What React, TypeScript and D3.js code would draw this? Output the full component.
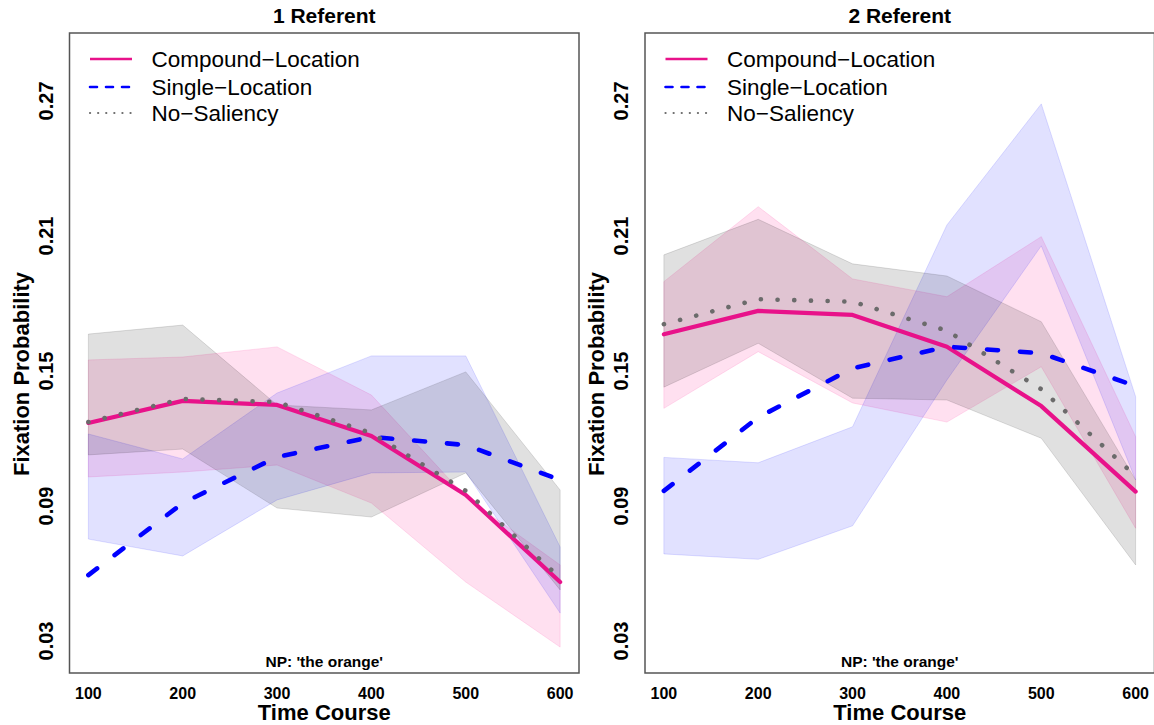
import React from "react";
import * as d3 from "d3";

// ---------- data ----------
const times = [100, 200, 300, 400, 500, 600];
const xTicks = [100, 200, 300, 400, 500, 600];
const yTicks = [0.03, 0.09, 0.15, 0.21, 0.27];
const panelTitles = ["1 Referent", "2 Referent"];
const seriesNames = ["Compound\u2212Location", "Single\u2212Location", "No\u2212Saliency"];
const npLabel = "NP: 'the orange'";
const xLabel = "Time Course";
const yLabel = "Fixation Probability";

// Panel 1 (1 Referent)
const p1CompoundMean = [0.1269, 0.1367, 0.1349, 0.1211, 0.0949, 0.0562];
const p1CompoundHi = [0.1549, 0.1562, 0.1607, 0.1393, 0.094, 0.0638];
const p1CompoundLo = [0.1029, 0.1051, 0.1082, 0.0913, 0.0562, 0.0273];
const p1SingleMean = [0.0593, 0.0913, 0.1118, 0.1207, 0.1171, 0.1016];
const p1SingleHi = [0.122, 0.1109, 0.1402, 0.1567, 0.1567, 0.0718];
const p1SingleLo = [0.0753, 0.0678, 0.0927, 0.1047, 0.1051, 0.0424];
const p1NoSalMean = [0.1273, 0.1376, 0.1362, 0.1224, 0.0967, 0.058];
const p1NoSalHi = [0.1664, 0.1704, 0.1349, 0.1327, 0.1496, 0.0971];
const p1NoSalLo = [0.1127, 0.1153, 0.0891, 0.0851, 0.1047, 0.0527];

// Panel 2 (2 Referent)
const p2CompoundMean = [0.1663, 0.1767, 0.1749, 0.1608, 0.1344, 0.0964];
const p2CompoundHi = [0.1897, 0.223, 0.1909, 0.183, 0.2097, 0.1208];
const p2CompoundLo = [0.1334, 0.1586, 0.1358, 0.1273, 0.1519, 0.0801];
const p2SingleMean = [0.0967, 0.1294, 0.1512, 0.1608, 0.1579, 0.1433];
const p2SingleHi = [0.1116, 0.1092, 0.1252, 0.2149, 0.2687, 0.1386];
const p2SingleLo = [0.0687, 0.0663, 0.0812, 0.146, 0.2056, 0.1016];
const p2NoSalMean = [0.1708, 0.1819, 0.1808, 0.1679, 0.1419, 0.1033];
const p2NoSalHi = [0.2016, 0.2174, 0.1976, 0.1922, 0.1719, 0.1016];
const p2NoSalLo = [0.1428, 0.1623, 0.1379, 0.1371, 0.1201, 0.0638];

// ---------- styles ----------
const W = 1154;
const H = 725;
const FONT = "'Liberation Sans', Arial, Helvetica, sans-serif";
const panelLefts = [69.5, 645];
const plotW = 509.5;
const plotTop = 33;
const plotBottom = 673;
const xDomain = [80, 620];
const yDomain = [0.01578, 0.3002];

const styles = [
  { line: "#E8128A", band: "rgba(255,110,185,0.21)", width: 4.2, dash: null, cap: "round", legendDash: null, legendWidth: 2.6 },
  { line: "#0000FF", band: "rgba(20,20,255,0.13)", width: 4.6, dash: "11 22", cap: "round", legendDash: "7 9", legendWidth: 2.6 },
  { line: "#6b6b6b", band: "rgba(0,0,0,0.12)", width: 4.6, dash: "0.1 16.6", cap: "round", legendDash: "0.1 8", legendWidth: 2.2 },
];

type Series = { mean: number[]; hi: number[]; lo: number[] };

const panels: Series[][] = [
  [
    { mean: p1CompoundMean, hi: p1CompoundHi, lo: p1CompoundLo },
    { mean: p1SingleMean, hi: p1SingleHi, lo: p1SingleLo },
    { mean: p1NoSalMean, hi: p1NoSalHi, lo: p1NoSalLo },
  ],
  [
    { mean: p2CompoundMean, hi: p2CompoundHi, lo: p2CompoundLo },
    { mean: p2SingleMean, hi: p2SingleHi, lo: p2SingleLo },
    { mean: p2NoSalMean, hi: p2NoSalHi, lo: p2NoSalLo },
  ],
];

function Panel({ idx }: { idx: number }) {
  const left = panelLefts[idx];
  const x = d3.scaleLinear().domain(xDomain).range([left, left + plotW]);
  const y = d3.scaleLinear().domain(yDomain).range([plotBottom, plotTop]);
  const cx = left + plotW / 2;
  const series = panels[idx];
  const clipId = `clip-${idx}`;

  const areaGen = (s: Series) =>
    d3
      .area<number>()
      .x((_, i) => x(times[i]))
      .y0((_, i) => y(s.lo[i]))
      .y1((_, i) => y(s.hi[i]))(times);
  const lineGen = (s: Series) =>
    d3
      .line<number>()
      .x((_, i) => x(times[i]))
      .y((_, i) => y(s.mean[i]))(times);

  const legendRows = [59, 87, 113];

  return (
    <g>
      <defs>
        <clipPath id={clipId}>
          <rect x={left} y={plotTop} width={plotW} height={plotBottom - plotTop} />
        </clipPath>
      </defs>
      <g clipPath={`url(#${clipId})`}>
        {series.map((s, i) => (
          <path key={"b" + i} d={areaGen(s) || ""} fill={styles[i].band} stroke={styles[i].band} strokeWidth={1} />
        ))}
        {series.map((s, i) => (
          <path
            key={"l" + i}
            d={lineGen(s) || ""}
            fill="none"
            stroke={styles[i].line}
            strokeWidth={styles[i].width}
            strokeDasharray={styles[i].dash || undefined}
            strokeLinecap={styles[i].cap as any}
            strokeLinejoin="round"
          />
        ))}
      </g>
      <rect x={left} y={plotTop} width={plotW} height={plotBottom - plotTop} fill="none" stroke="#555" strokeWidth={1.5} />

      {/* legend */}
      {seriesNames.map((name, i) => (
        <g key={"lg" + i}>
          <line
            x1={left + 20.5}
            x2={left + 62.5}
            y1={legendRows[i]}
            y2={legendRows[i]}
            stroke={styles[i].line}
            strokeWidth={styles[i].legendWidth}
            strokeDasharray={styles[i].legendDash || undefined}
            strokeLinecap={i === 0 ? "butt" : "round"}
          />
          <text x={left + 82} y={legendRows[i]} dy="0.35em" fontFamily={FONT} fontSize={22.5} fill="#000">
            {name}
          </text>
        </g>
      ))}

      {/* title */}
      <text x={cx} y={22.5} textAnchor="middle" fontFamily={FONT} fontWeight="bold" fontSize={21}>
        {panelTitles[idx]}
      </text>

      {/* NP label */}
      <text x={cx} y={667} textAnchor="middle" fontFamily={FONT} fontWeight="bold" fontSize={15.5}>
        {npLabel}
      </text>

      {/* x ticks */}
      {xTicks.map((t) => (
        <text key={"xt" + t} x={x(t)} y={699} textAnchor="middle" fontFamily={FONT} fontWeight="bold" fontSize={16}>
          {t}
        </text>
      ))}
      <text x={cx} y={720} textAnchor="middle" fontFamily={FONT} fontWeight="bold" fontSize={22}>
        {xLabel}
      </text>

      {/* y ticks */}
      {yTicks.map((t) => (
        <text
          key={"yt" + t}
          transform={`translate(${left - 17},${y(t)}) rotate(-90)`}
          textAnchor="middle"
          fontFamily={FONT}
          fontWeight="bold"
          fontSize={20}
        >
          {d3.format(".2f")(t)}
        </text>
      ))}
      <text
        transform={`translate(${left - 41},374) rotate(-90)`}
        textAnchor="middle"
        fontFamily={FONT}
        fontWeight="bold"
        fontSize={22}
      >
        {yLabel}
      </text>
    </g>
  );
}

export default function App() {
  return (
    <div style={{ position: "absolute", left: 0, top: 0 }}>
      <svg width={W} height={H} viewBox={`0 0 ${W} ${H}`} style={{ display: "block", background: "#fff" }}>
        <rect x={0} y={0} width={W} height={H} fill="#fff" />
        <Panel idx={0} />
        <Panel idx={1} />
      </svg>
    </div>
  );
}
